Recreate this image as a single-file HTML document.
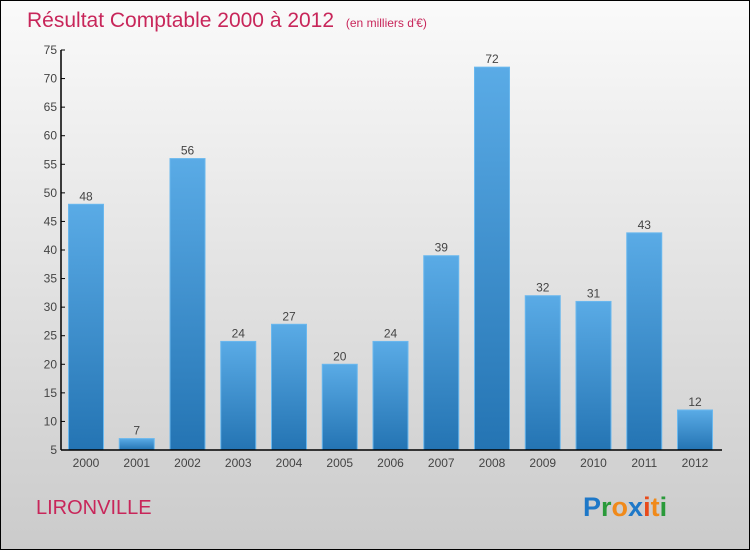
<!DOCTYPE html>
<html><head><meta charset="utf-8"><style>
html,body{margin:0;padding:0}
body{width:750px;height:550px;overflow:hidden;font-family:"Liberation Sans",sans-serif}
#wrap{position:relative;width:748px;height:548px;border:1px solid #000;background:linear-gradient(#fafafa,#cbcbcb)}
</style></head><body>
<div id="wrap">
<svg width="748" height="548">
<defs><linearGradient id="bg" x1="0" y1="0" x2="0" y2="1"><stop offset="0" stop-color="#5aabe6"/><stop offset="1" stop-color="#2474b3"/></linearGradient></defs>
<text x="26" y="26" font-size="21" fill="#c8265a">Résultat Comptable 2000 à 2012 <tspan font-size="12" dx="6">(en milliers d'€)</tspan></text>
<g id="yaxis"></g>
<g id="bars"></g>
<g id="xaxis"></g>
<text x="35" y="513" font-size="20" fill="#c8265a">LIRONVILLE</text>
<g font-size="27" font-weight="bold" font-family="Liberation Sans,sans-serif">
<text x="582" y="515"><tspan fill="#1e78c8">P</tspan><tspan fill="#2a9a3a">r</tspan><tspan fill="#f08a1a">o</tspan><tspan fill="#1e78c8">x</tspan><tspan fill="#e84a1a">i</tspan><tspan fill="#f08a1a">t</tspan><tspan fill="#2a9a3a">i</tspan></text>
</g>
</svg></div>
<script>
const years=["2000","2001","2002","2003","2004","2005","2006","2007","2008","2009","2010","2011","2012"];
const values=[48,7,56,24,27,20,24,39,72,32,31,43,12];
const yTicks=[5,10,15,20,25,30,35,40,45,50,55,60,65,70,75];
const NS="http://www.w3.org/2000/svg";
const y0=449,yTop=49,vMin=5,vMax=75;
const yS=v=>y0-(v-vMin)*(y0-yTop)/(vMax-vMin);
const xS=i=>85+i*50.75;
const bw=35;
function mk(t,a,p){const e=document.createElementNS(NS,t);for(const k in a)e.setAttribute(k,a[k]);p.appendChild(e);return e;}
const ya=document.getElementById('yaxis'),xa=document.getElementById('xaxis'),bg=document.getElementById('bars');
mk('line',{x1:60,y1:yTop,x2:60,y2:y0,stroke:'#000','stroke-width':1.5},ya);
yTicks.forEach(v=>{
 mk('line',{x1:60,y1:yS(v),x2:64,y2:yS(v),stroke:'#000'},ya);
 const t=mk('text',{x:56,y:yS(v)+4,'text-anchor':'end','font-size':12,fill:'#444'},ya);
 
 
 t.textContent=v;
});
mk('line',{x1:60,y1:y0,x2:721,y2:y0,stroke:'#000','stroke-width':1.5},xa);
values.forEach((v,i)=>{
 const r=mk('rect',{x:xS(i)-bw/2,y:yS(v),width:bw,height:y0-yS(v),fill:'url(#bg)',stroke:'#6ab8ee','stroke-width':1},bg);
 
 
 const t=mk('text',{x:xS(i),y:yS(v)-4,'text-anchor':'middle','font-size':12,fill:'#444'},bg);
 
 
 t.textContent=v;
 const l=mk('text',{x:xS(i),y:466,'text-anchor':'middle','font-size':12,fill:'#444'},xa);
 
 
 l.textContent=years[i];
});
</script>
</body></html>
